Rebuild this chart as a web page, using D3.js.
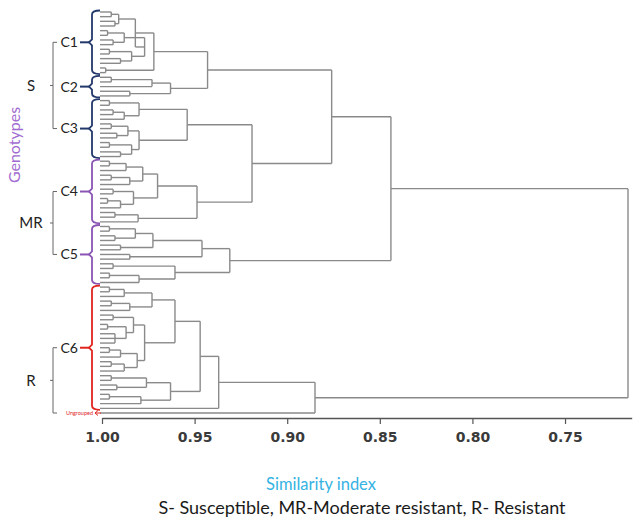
<!DOCTYPE html>
<meta charset="utf-8">
<script src="https://d3js.org/d3.v7.min.js"></script>
<style>
  body { margin: 0; background: #fff; }
</style>
<body>
<div id="my_dataviz"></div>
<script>
// each node is [similarity, ...children], a leaf (one genotype) is L
const L = 1;

const c1 = [0.972,
  [0.982,
    [0.991, [0.995, L, L], [0.993, L, L]],
    [0.977, [0.988, [0.997, L, L], [0.994, L, L]], [0.984, [0.996, L, L], [0.990, L, L]]]],
  [0.998, L, L]];
const c2 = [0.963, [0.973, [0.995, L, L], L], [0.985, L, L]];
const c3 = [0.954,
  [0.980, [0.996, L, L], [0.988, [0.994, L, L], L]],
  [0.980, [0.986, [0.995, L, L], [0.992, L, L]], [0.984, [0.996, L, L], [0.990, L, L]]]];
const c4 = [0.9487,
  [0.970,
    [0.978, [0.987, [0.996, L, L], L], [0.985, [0.995, L, L], L]],
    [0.983, [0.994, L, L], [0.990, [0.997, L, L], L]]],
  [0.9805, [0.993, L, L], L]];
const c5 = [0.931,
  [0.946, [0.9725, [0.982, [0.996, L, L], [0.993, L, L]], [0.990, L, L]], [0.985, L, L]],
  [0.9606, [0.994, L, L], [0.980, [0.996, L, L], L]]];
const c6 = [0.937,
  [0.947,
    [0.9606,
      [0.973, [0.988, [0.996, L, L], L], [0.985, [0.995, L, L], L]],
      [0.977,
        [0.983, [0.994, L, L], [0.987, [0.997, L, L], [0.993, L, L, L]]],
        [0.981, [0.990, [0.996, L, L], L], [0.988, [0.995, L, L], L]]]],
    [0.963,
      [0.976, [0.995, L, L], [0.992, L, L]],
      [0.979, [0.996, L, L], L]]],
  L];
const ungrouped = [1.0];

// joins between clusters
const s12 = [0.943, c1, c2];
const s34 = [0.919, c3, c4];
const s1234 = [0.876, s12, s34];
const s12345 = [0.844, s1234, c5];
const r6u = [0.885, c6, ungrouped];
const root = [0.716, s12345, r6u];

const clusterNames = ["C1", "C2", "C3", "C4", "C5", "C6"];
const clusterTrees = [c1, c2, c3, c4, c5, c6];
const clusterGroup = ["S", "S", "S", "MR", "MR", "R"];
const groupNames = ["S", "MR", "R"];
const tickValues = [1.00, 0.95, 0.90, 0.85, 0.80, 0.75];

const groupColor = {S: "#23386b", MR: "#8a55b4", R: "#e0251f"};
const lineColor = "#8a8a8a";

const W = 636, H = 519;
const svg = d3.select("#my_dataviz").append("svg")
  .attr("width", W).attr("height", H);

const isNode = d => Array.isArray(d) && d.length > 1;
const hier = d3.hierarchy(root, d => isNode(d) ? d.slice(1) : null);
const simOf = d => isNode(d.data) ? d.data[0] : 1.0;

const leaves = hier.leaves();
const x = d3.scaleLinear().domain([1.0, 0.714]).range([102, 631.7]);
const y = d3.scaleLinear().domain([0, leaves.length - 1]).range([12, 413]);

leaves.forEach((d, i) => { d.y = y(i); });
hier.eachAfter(d => {
  if (d.children) d.y = (d.children[0].y + d.children[d.children.length - 1].y) / 2;
  d.x = x(simOf(d));
});

// dendrogram
const tree = svg.append("g")
  .attr("fill", "none").attr("stroke", lineColor).attr("stroke-width", 1.4);
hier.descendants().filter(d => d.children).forEach(d => {
  const kids = d.children;
  tree.append("line")
    .attr("x1", d.x).attr("x2", d.x)
    .attr("y1", kids[0].y).attr("y2", kids[kids.length - 1].y);
  kids.forEach(k => {
    tree.append("line")
      .attr("x1", k.x - (k.children ? 0 : 2)).attr("x2", d.x)
      .attr("y1", k.y).attr("y2", k.y);
  });
});

// axis
const axis = svg.append("g")
  .attr("transform", "translate(0,418)")
  .call(d3.axisBottom(x).tickValues(tickValues).tickFormat(d3.format(".2f"))
    .tickSize(6).tickSizeOuter(0).tickPadding(8));
axis.select(".domain").attr("stroke", "#555").attr("stroke-width", 1.6);
axis.selectAll(".tick line").attr("stroke", "#555").attr("stroke-width", 1.2);
axis.selectAll(".tick text")
  .attr("font-family", "DejaVu Sans").attr("font-weight", "bold")
  .attr("font-size", 14).attr("fill", "#3a3a3a");

// braces for clusters
const labelY = {};
clusterTrees.forEach((c, i) => {
  const node = hier.descendants().find(d => d.data === c);
  const lv = node.leaves();
  const top = lv[0].y - 1.5, bot = lv[lv.length - 1].y + 1.5;
  const mid = (top + bot) / 2;
  labelY[clusterNames[i]] = mid;
  const col = groupColor[clusterGroup[i]];
  const bx = 92;
  const p = d3.path();
  p.moveTo(bx + 8, top);
  p.quadraticCurveTo(bx, top, bx, top + 4);
  p.lineTo(bx, mid - 3);
  p.lineTo(bx - 3, mid);
  p.lineTo(bx, mid + 3);
  p.lineTo(bx, bot - 4);
  p.quadraticCurveTo(bx, bot, bx + 8, bot);
  svg.append("path").attr("d", p.toString())
    .attr("fill", "none").attr("stroke", col).attr("stroke-width", 1.8);
  svg.append("line")
    .attr("x1", 80).attr("x2", bx - 3).attr("y1", mid).attr("y2", mid)
    .attr("stroke", col).attr("stroke-width", 2);
  svg.append("text")
    .attr("x", 78).attr("y", mid).attr("dy", "0.35em")
    .attr("text-anchor", "end")
    .attr("font-family", "Lato").attr("font-size", 14).attr("fill", "#222")
    .text(clusterNames[i]);
});

// ungrouped mark
const ug = hier.descendants().find(d => d.data === ungrouped);
labelY.U = ug.y;
svg.append("text")
  .attr("x", 93).attr("y", ug.y).attr("dy", "0.35em")
  .attr("text-anchor", "end")
  .attr("font-family", "Lato").attr("font-size", 5.5).attr("fill", groupColor.R)
  .text("Ungrouped");
svg.append("path")
  .attr("d", d3.line()([[101, ug.y], [95, ug.y]]) + "M98," + (ug.y - 2.5) + "L95," + ug.y + "L98," + (ug.y + 2.5))
  .attr("fill", "none").attr("stroke", groupColor.R).attr("stroke-width", 1);

// resistance groups
groupNames.forEach(g => {
  const names = clusterNames.filter((c, i) => clusterGroup[i] === g);
  const y0 = labelY[names[0]];
  const y1 = g === "R" ? labelY.U : labelY[names[names.length - 1]];
  const gx = 53;
  svg.append("path")
    .attr("d", "M" + (gx + 4) + "," + y0 + "H" + gx + "V" + y1 + "H" + (gx + 4)
      + "M" + gx + "," + ((y0 + y1) / 2) + "H" + (gx - 3))
    .attr("fill", "none").attr("stroke", "#666").attr("stroke-width", 1);
  svg.append("text")
    .attr("x", 31).attr("y", (y0 + y1) / 2).attr("dy", "0.35em")
    .attr("text-anchor", "middle")
    .attr("font-family", "Lato").attr("font-size", 15).attr("fill", "#222")
    .text(g);
});

// titles
svg.append("text")
  .attr("transform", "translate(20,145) rotate(-90)")
  .attr("text-anchor", "middle")
  .attr("font-family", "Lato").attr("font-size", 16).attr("fill", "#a06ad0")
  .text("Genotypes");
svg.append("text")
  .attr("x", 321).attr("y", 490)
  .attr("text-anchor", "middle")
  .attr("font-family", "Lato").attr("font-size", 16.5).attr("fill", "#35b3e3")
  .text("Similarity index");
svg.append("text")
  .attr("x", 362).attr("y", 514)
  .attr("text-anchor", "middle")
  .attr("font-family", "Lato").attr("font-size", 18).attr("fill", "#1a1a1a")
  .text("S- Susceptible, MR-Moderate resistant, R- Resistant");
</script>
</body>
